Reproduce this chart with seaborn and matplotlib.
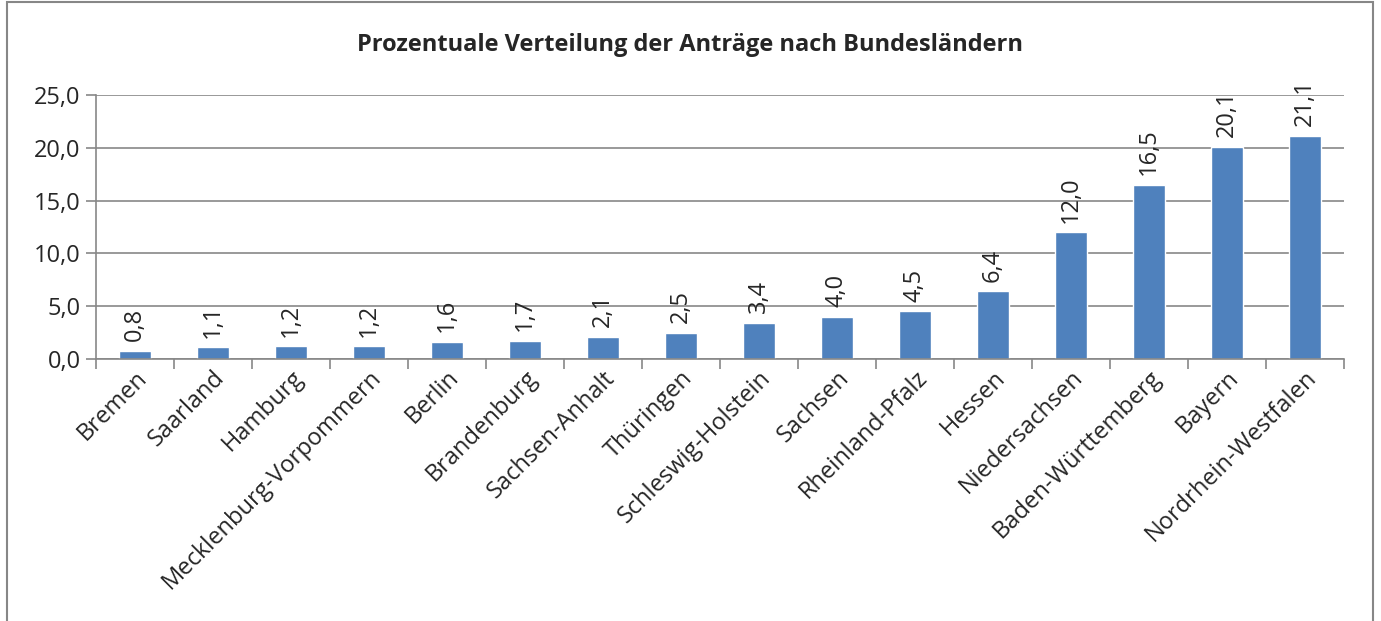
import matplotlib
matplotlib.use('Agg')
import matplotlib.pyplot as plt
import matplotlib.patches as mpatches
from matplotlib.ticker import FixedLocator
import seaborn as sns
import pandas as pd

# data
laender = ['Bremen', 'Saarland', 'Hamburg', 'Mecklenburg-Vorpommern', 'Berlin',
           'Brandenburg', 'Sachsen-Anhalt', 'Thüringen', 'Schleswig-Holstein',
           'Sachsen', 'Rheinland-Pfalz', 'Hessen', 'Niedersachsen',
           'Baden-Württemberg', 'Bayern', 'Nordrhein-Westfalen']
anteile = [0.8, 1.1, 1.2, 1.2, 1.6, 1.7, 2.1, 2.5, 3.4, 4.0, 4.5, 6.4, 12.0,
           16.5, 20.1, 21.1]
y_ticks = [0, 5, 10, 15, 20, 25]

df = pd.DataFrame({'land': laender, 'anteil': anteile})

sns.set_style('white')
plt.rcParams['font.family'] = ['Open Sans', 'DejaVu Sans']

fig = plt.figure(figsize=(13.81, 6.21), dpi=100)
ax = fig.add_axes([96/1381, 1-359/621, (1344-96)/1381, (359-95)/621])

sns.barplot(data=df, x='land', y='anteil', color='#4f81bd', saturation=1,
            width=0.4, ax=ax)

ax.set_ylim(0, 25)
ax.set_xlim(-0.5, len(laender) - 0.5)
ax.set_yticks(y_ticks)
ax.set_yticklabels([f'{v:.1f}'.replace('.', ',') for v in y_ticks], fontsize=17)
ax.set_xticks(range(len(laender)))
ax.set_xticklabels(laender, rotation=45, ha='right', rotation_mode='anchor',
                   fontsize=17)
ax.tick_params(axis='x', length=0, pad=5)
ax.xaxis.set_minor_locator(FixedLocator([i - 0.5 for i in range(len(laender) + 1)]))
ax.tick_params(axis='x', which='minor', length=7, width=1.2, color='#878787',
               direction='out', bottom=True)
ax.tick_params(axis='y', length=7, width=1.2, color='#878787', direction='out',
               left=True, pad=4)
ax.yaxis.grid(True, color='#878787', linewidth=1.2)
ax.set_axisbelow(True)
for s in ['top', 'right']:
    ax.spines[s].set_visible(False)
for s in ['left', 'bottom']:
    ax.spines[s].set_color('#878787')
    ax.spines[s].set_linewidth(1.2)
ax.set_xlabel('')
ax.set_ylabel('')

ax.bar_label(ax.containers[0],
             labels=[f'{v:.1f}'.replace('.', ',') for v in anteile],
             rotation=90, padding=7, fontsize=17)

fig.text(690/1381, 1-45/621, 'Prozentuale Verteilung der Anträge nach Bundesländern',
         ha='center', va='center', fontsize=17, fontweight='bold')

fig.patches.append(mpatches.Rectangle((7/1381, -0.1), (1373-7)/1381, 1.1 - 2/621,
                                      transform=fig.transFigure, fill=False,
                                      edgecolor='#878787', linewidth=1.5))

fig.savefig('out.png', dpi=100, facecolor='white')
